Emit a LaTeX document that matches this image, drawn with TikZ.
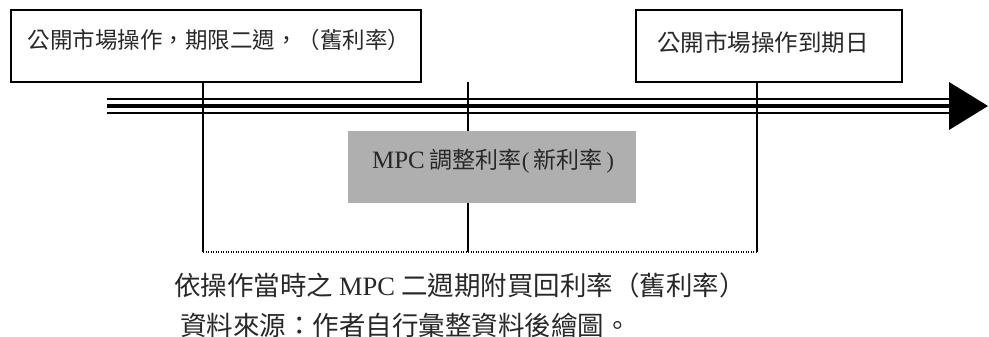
\documentclass[tikz,border=0pt]{standalone}
\usepackage{fontspec}
\setmainfont{Liberation Serif}
\newfontfamily\cjk{Noto Sans CJK TC}
\definecolor{boxgray}{RGB}{175,175,175}
\definecolor{ink}{RGB}{40,40,40}
\begin{document}
\begin{tikzpicture}[x=1pt,y=-1pt,
  box/.style={draw, line width=1.3pt, inner sep=0pt},
  lbl/.style={inner sep=0pt, text=ink, font=\cjk\fontsize{22.5}{26}\selectfont},
  big/.style={inner sep=0pt, text=ink, anchor=west, font=\cjk\fontsize{26.5}{30}\selectfont},
  vline/.style={line width=1.2pt},
]
\useasboundingbox (0,0) rectangle (989,337);
% boxes
\node[box, minimum width=410pt, minimum height=72pt] (b1) at (216,46) {};
\node[lbl] (t1) at (219,40) {公開市場操作，期限二週，（舊利率）};
\node[box, minimum width=266pt, minimum height=72pt] (b2) at (769,46) {};
\node[lbl, font=\cjk\fontsize{23.5}{27}\selectfont] (t2) at (763,43) {公開市場操作到期日};
\node[fill=boxgray, minimum width=288pt, minimum height=72pt, inner sep=0pt] (g) at (492,167) {};
\node[lbl, font=\cjk\fontsize{23}{27}\selectfont] (tg) at (493,161) {{\rmfamily\fontsize{25}{27}\selectfont MPC} 調整利率{\rmfamily(}\,新利率\,{\rmfamily)}};
% timeline
\coordinate (s) at (107,106);
\coordinate (e) at (949,106);
\draw[line width=2pt] ([yshift=7pt]s) -- ([yshift=7pt]e);
\draw[line width=4pt] (s) -- (e);
\draw[line width=2pt] ([yshift=-7pt]s) -- ([yshift=-7pt]e);
\fill ([yshift=24pt]e) -- ([xshift=39pt]e) -- ([yshift=-24pt]e) -- cycle;
% vertical lines
\coordinate (p1) at (203,252);
\coordinate (p2) at (468,252);
\coordinate (p3) at (757,252);
\coordinate (m0) at (468,82);
\draw[vline] (p1 |- b1.south) -- (p1);
\draw[vline] (p3 |- b2.south) -- (p3);
\draw[vline] (m0) -- (m0 |- g.north);
\draw[vline] (p2 |- g.south) -- (p2);
\draw[line width=1.3pt, dash pattern=on 1.3pt off 1.2pt] (p1) -- (p3);
% bottom text
\node[big] (n1) at (174,285) {依操作當時之 {\rmfamily MPC} 二週期附買回利率（舊利率）};
\node[big] (n2) at (180,325) {資料來源：作者自行彙整資料後繪圖。};
\end{tikzpicture}
\end{document}
